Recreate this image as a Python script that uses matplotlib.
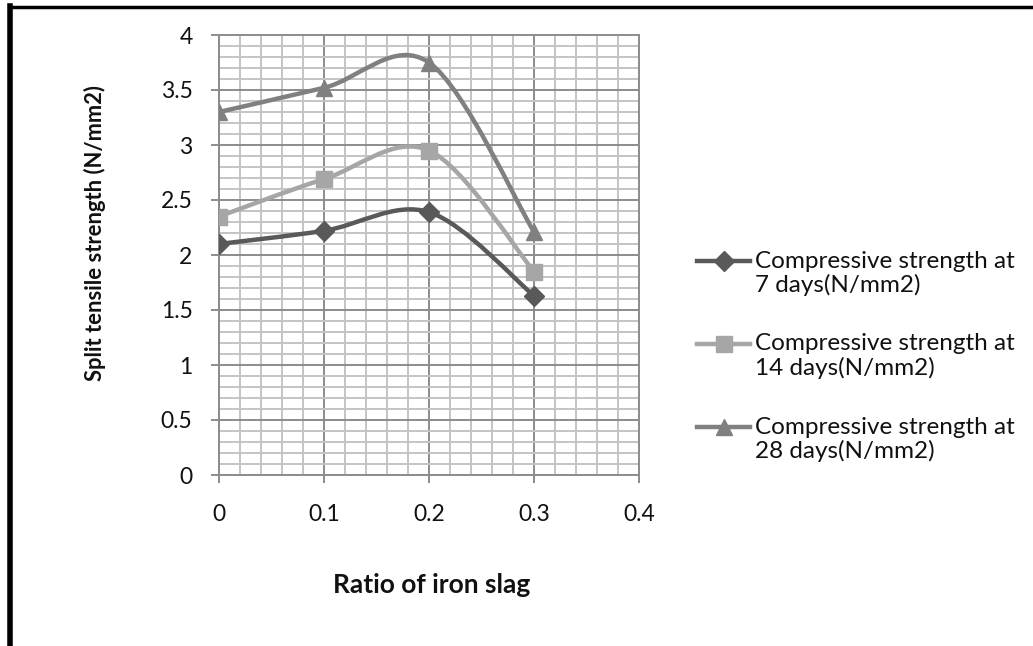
import matplotlib
matplotlib.use("Agg")
import matplotlib.pyplot as plt
from matplotlib.path import Path
from matplotlib.patches import PathPatch
from matplotlib.lines import Line2D
from matplotlib.ticker import MultipleLocator

# -----------------------
# Data
# -----------------------
ratio = [0.0, 0.1, 0.2, 0.3]
strength_7 = [2.10, 2.22, 2.39, 1.63]
strength_14 = [2.35, 2.69, 2.95, 1.85]
strength_28 = [3.30, 3.52, 3.75, 2.21]

legend_lines = [
    ("Compressive strength at", "7 days(N/mm2)"),
    ("Compressive strength at", "14 days(N/mm2)"),
    ("Compressive strength at", "28 days(N/mm2)"),
]

colors = ["#595959", "#A6A6A6", "#808080"]
markers = ["D", "s", "^"]
marker_sizes = [10, 11, 12]

major_grid = "#8C8C8C"
minor_grid = "#C4C4C4"
text = "#111111"

W, H = 1033, 646

plt.rcParams.update({
    "font.family": ["Lato", "DejaVu Sans"],
    "font.size": 16.5,
})


def smooth_path(xs, ys):
    # Excel-style smoothed line: Catmull-Rom segments as cubic Beziers
    pts = list(zip(xs, ys))
    n = len(pts)
    verts = [pts[0]]
    codes = [Path.MOVETO]
    for i in range(n - 1):
        p0 = pts[max(i - 1, 0)]
        p1 = pts[i]
        p2 = pts[i + 1]
        p3 = pts[min(i + 2, n - 1)]
        c1 = (p1[0] + (p2[0] - p0[0]) / 6, p1[1] + (p2[1] - p0[1]) / 6)
        c2 = (p2[0] - (p3[0] - p1[0]) / 6, p2[1] - (p3[1] - p1[1]) / 6)
        verts += [c1, c2, p2]
        codes += [Path.CURVE4] * 3
    return Path(verts, codes)


def fx(px):
    return px / W


def fy(py):
    return 1 - py / H


fig = plt.figure(figsize=(W / 100, H / 100), dpi=100)
ax = fig.add_axes([fx(219), fy(475), 420 / W, 440 / H])

series = [strength_7, strength_14, strength_28]
for vals, c, m, ms in zip(series, colors, markers, marker_sizes):
    patch = PathPatch(smooth_path(ratio, vals), facecolor="none",
                      edgecolor=c, linewidth=3.2, zorder=3,
                      capstyle="round", joinstyle="round")
    ax.add_patch(patch)
    ax.plot(ratio, vals, linestyle="none", marker=m, markersize=ms,
            color=c, markeredgecolor=c, zorder=4)

# -----------------------
# Axes and grid
# -----------------------
ax.set_xlim(0, 0.4)
ax.set_ylim(0, 4)
ax.xaxis.set_minor_locator(MultipleLocator(0.02))
ax.yaxis.set_minor_locator(MultipleLocator(0.1))
ax.set_xticks([0, 0.1, 0.2, 0.3, 0.4])
ax.set_xticklabels(["0", "0.1", "0.2", "0.3", "0.4"])
ax.set_yticks([0, 0.5, 1, 1.5, 2, 2.5, 3, 3.5, 4])
ax.set_yticklabels(["0", "0.5", "1", "1.5", "2", "2.5", "3", "3.5", "4"])

ax.grid(which="major", color=major_grid, linewidth=1.4)
ax.grid(which="minor", color=minor_grid, linewidth=1.4)
ax.set_axisbelow(True)

for side in ["top", "right", "left", "bottom"]:
    ax.spines[side].set_color(major_grid)
    ax.spines[side].set_linewidth(1.4)

ax.tick_params(which="major", direction="out", length=6, width=1.4,
               color=major_grid, labelcolor=text)
ax.tick_params(axis="x", which="major", pad=15)
ax.tick_params(axis="y", which="major", pad=13)
ax.tick_params(which="minor", length=0)

# -----------------------
# Axis titles
# -----------------------
fig.text(fx(432), fy(585), "Ratio of iron slag", ha="center",
         va="center", fontsize=19, fontweight="bold", color=text)
fig.text(fx(95), fy(233), "Split tensile strength (N/mm2)",
         ha="center", va="center", rotation=90, fontsize=15.8,
         fontweight="bold", color=text)

# -----------------------
# Legend (handle sits on the first text line, like Excel)
# -----------------------
entry_y = [261, 344, 427]
line_gap = 24
for (first, second), c, m, ms, y in zip(legend_lines, colors, markers,
                                        marker_sizes, entry_y):
    fig.add_artist(Line2D([fx(697), fx(750)], [fy(y), fy(y)], color=c,
                          linewidth=3.2, transform=fig.transFigure))
    fig.add_artist(Line2D([fx(723.5)], [fy(y)], color=c, marker=m,
                          markersize=ms, markeredgecolor=c,
                          linestyle="none", transform=fig.transFigure))
    fig.text(fx(755), fy(y), first, ha="left", va="center",
             fontsize=17.5, color=text)
    fig.text(fx(755), fy(y + line_gap), second, ha="left", va="center",
             fontsize=17.5, color=text)

# -----------------------
# Outer border (top and left only)
# -----------------------
fig.add_artist(Line2D([fx(10), 1], [fy(7), fy(7)], color="black",
                      linewidth=2.5, transform=fig.transFigure))
fig.add_artist(Line2D([fx(10), fx(10)], [0, fy(6)], color="black",
                      linewidth=4, transform=fig.transFigure))

fig.savefig("out.png", dpi=100)
plt.close(fig)
